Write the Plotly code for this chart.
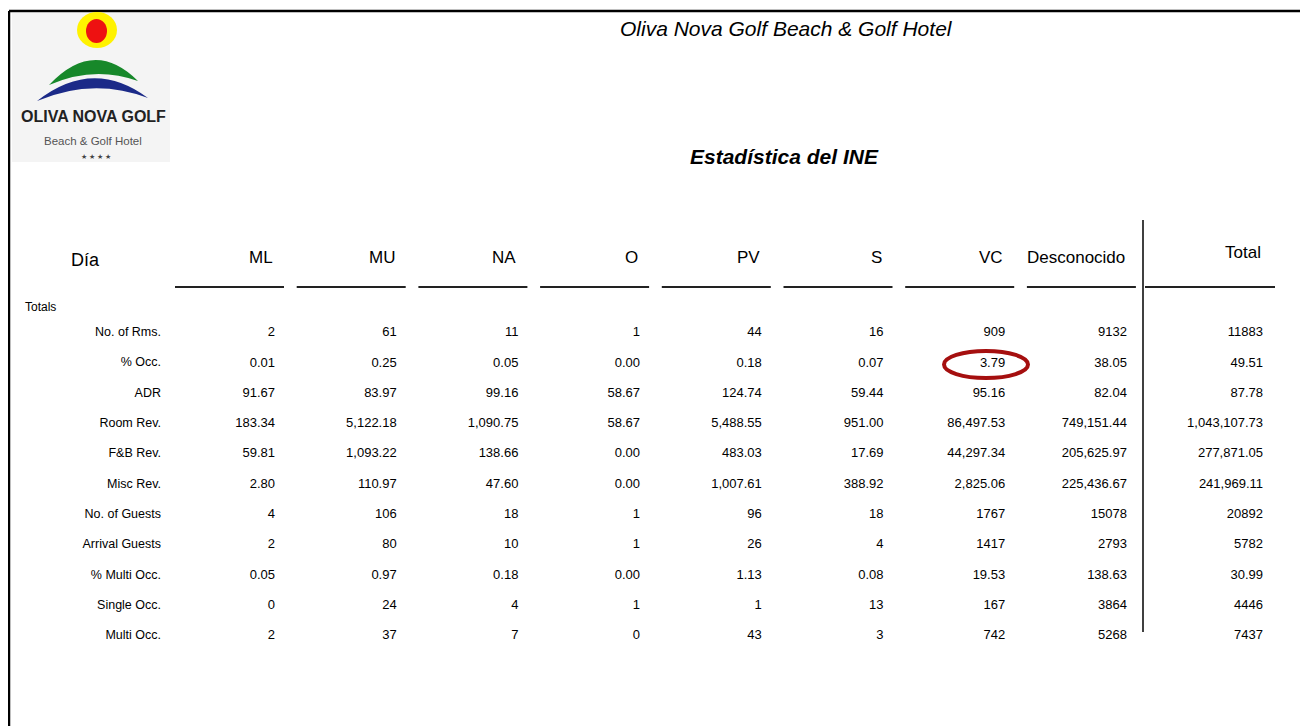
import plotly.graph_objects as go

# column headers and row labels
columns = ["ML", "MU", "NA", "O", "PV", "S", "VC", "Desconocido", "Total"]
row_labels = ["No. of Rms.", "% Occ.", "ADR", "Room Rev.", "F&B Rev.", "Misc Rev.",
              "No. of Guests", "Arrival Guests", "% Multi Occ.", "Single Occ.", "Multi Occ."]

# values per column, same order as row_labels
ml = [2, 0.01, 91.67, 183.34, 59.81, 2.80, 4, 2, 0.05, 0, 2]
mu = [61, 0.25, 83.97, 5122.18, 1093.22, 110.97, 106, 80, 0.97, 24, 37]
na = [11, 0.05, 99.16, 1090.75, 138.66, 47.60, 18, 10, 0.18, 4, 7]
o = [1, 0.00, 58.67, 58.67, 0.00, 0.00, 1, 1, 0.00, 1, 0]
pv = [44, 0.18, 124.74, 5488.55, 483.03, 1007.61, 96, 26, 1.13, 1, 43]
s = [16, 0.07, 59.44, 951.00, 17.69, 388.92, 18, 4, 0.08, 13, 3]
vc = [909, 3.79, 95.16, 86497.53, 44297.34, 2825.06, 1767, 1417, 19.53, 167, 742]
desconocido = [9132, 38.05, 82.04, 749151.44, 205625.97, 225436.67, 15078, 2793, 138.63, 3864, 5268]
total = [11883, 49.51, 87.78, 1043107.73, 277871.05, 241969.11, 20892, 5782, 30.99, 4446, 7437]

values = [ml, mu, na, o, pv, s, vc, desconocido, total]

# number format per row
row_formats = ["{:.0f}", "{:.2f}", "{:.2f}", "{:,.2f}", "{:,.2f}", "{:,.2f}",
               "{:.0f}", "{:.0f}", "{:.2f}", "{:.0f}", "{:.0f}"]

W, H = 1308, 726
PAD = 8  # page margin of the html body
FONT = "Liberation Sans, Arial, sans-serif"
INK = "#000000"

col_right = [274 + 121.7 * i for i in range(8)] + [1262]
row_y = [333 + 30.3 * i for i in range(len(row_labels))]

fig = go.Figure()

for ci, col in enumerate(values):
    fig.add_trace(go.Scatter(
        x=[col_right[ci] + 1] * len(col),
        y=row_y,
        mode="text",
        text=[row_formats[ri].format(v) for ri, v in enumerate(col)],
        textposition="middle left",
        textfont={"family": FONT, "size": 13, "color": INK},
        hoverinfo="skip",
        showlegend=False,
    ))

fig.add_trace(go.Scatter(
    x=[161] * len(row_labels),
    y=row_y,
    mode="text",
    text=row_labels,
    textposition="middle left",
    textfont={"family": FONT, "size": 12.5, "color": INK},
    hoverinfo="skip",
    showlegend=False,
))

annotations = [
    dict(x=786, y=28, text="<i>Oliva Nova Golf Beach & Golf Hotel</i>", showarrow=False,
         font={"family": FONT, "size": 21, "color": INK}),
    dict(x=784, y=156, text="<b><i>Estadística del INE</i></b>", showarrow=False,
         font={"family": FONT, "size": 21, "color": INK}),
    dict(x=69, y=260, text="Día", showarrow=False, xanchor="left",
         font={"family": FONT, "size": 18, "color": INK}),
    dict(x=23, y=307, text="Totals", showarrow=False, xanchor="left",
         font={"family": FONT, "size": 12, "color": INK}),
]
for ci, name in enumerate(columns):
    annotations.append(dict(
        x=col_right[ci] + 1, y=252 if name == "Total" else 257, text=name, showarrow=False,
        xanchor="right", font={"family": FONT, "size": 17, "color": INK},
    ))

shapes = [
    # page frame
    dict(type="line", x0=9, x1=W + PAD, y0=11, y1=11, line={"color": "#000", "width": 2.5}),
    dict(type="line", x0=9, x1=9, y0=11, y1=H + PAD, line={"color": "#000", "width": 2.5}),
    # vertical separator before Total
    dict(type="line", x0=1143, x1=1143, y0=220, y1=632, line={"color": "#000", "width": 1.5}),
    # highlight ellipse
    dict(type="circle", x0=944, x1=1028, y0=351, y1=378, line={"color": "#A50F0F", "width": 4}),
    # logo
    dict(type="rect", x0=12, x1=170, y0=13, y1=162, fillcolor="#F4F4F4", line={"width": 0}),
    dict(type="circle", x0=77, x1=117, y0=12, y1=48, fillcolor="#FFF200", line={"width": 0}),
    dict(type="circle", x0=86, x1=107, y0=19, y1=43, fillcolor="#EE1111", line={"width": 0}),
    dict(type="path", path="M 49 85 Q 94 37 138 81 Q 94 65 49 85 Z",
         fillcolor="#17882A", line={"width": 0}),
    dict(type="path", path="M 37 101 Q 93 57 148 98 Q 93 77 37 101 Z",
         fillcolor="#1B2A88", line={"width": 0}),
]
# underlines below the headers
for ci in range(8):
    shapes.append(dict(type="line", x0=col_right[ci] - 99, x1=col_right[ci] + 10, y0=287, y1=287,
                       line={"color": "#222", "width": 2}))
shapes.append(dict(type="line", x0=1145, x1=1275, y0=287, y1=287, line={"color": "#222", "width": 2}))

annotations += [
    dict(x=93, y=116, text="<b>OLIVA NOVA GOLF</b>", showarrow=False,
         font={"family": FONT, "size": 16, "color": "#222222"}),
    dict(x=93, y=141, text="Beach & Golf Hotel", showarrow=False,
         font={"family": FONT, "size": 11.5, "color": "#555"}),
    dict(x=96, y=156, text="★ ★ ★ ★", showarrow=False,
         font={"family": FONT, "size": 7, "color": "#444"}),
]

fig.update_layout(
    width=W, height=H,
    margin={"l": 0, "r": 0, "t": 0, "b": 0},
    paper_bgcolor="#FFFFFF",
    plot_bgcolor="#FFFFFF",
    xaxis={"range": [PAD, W + PAD], "visible": False, "fixedrange": True},
    yaxis={"range": [H + PAD, PAD], "visible": False, "fixedrange": True},
    shapes=shapes,
    annotations=annotations,
)

fig.write_html("out.html")
